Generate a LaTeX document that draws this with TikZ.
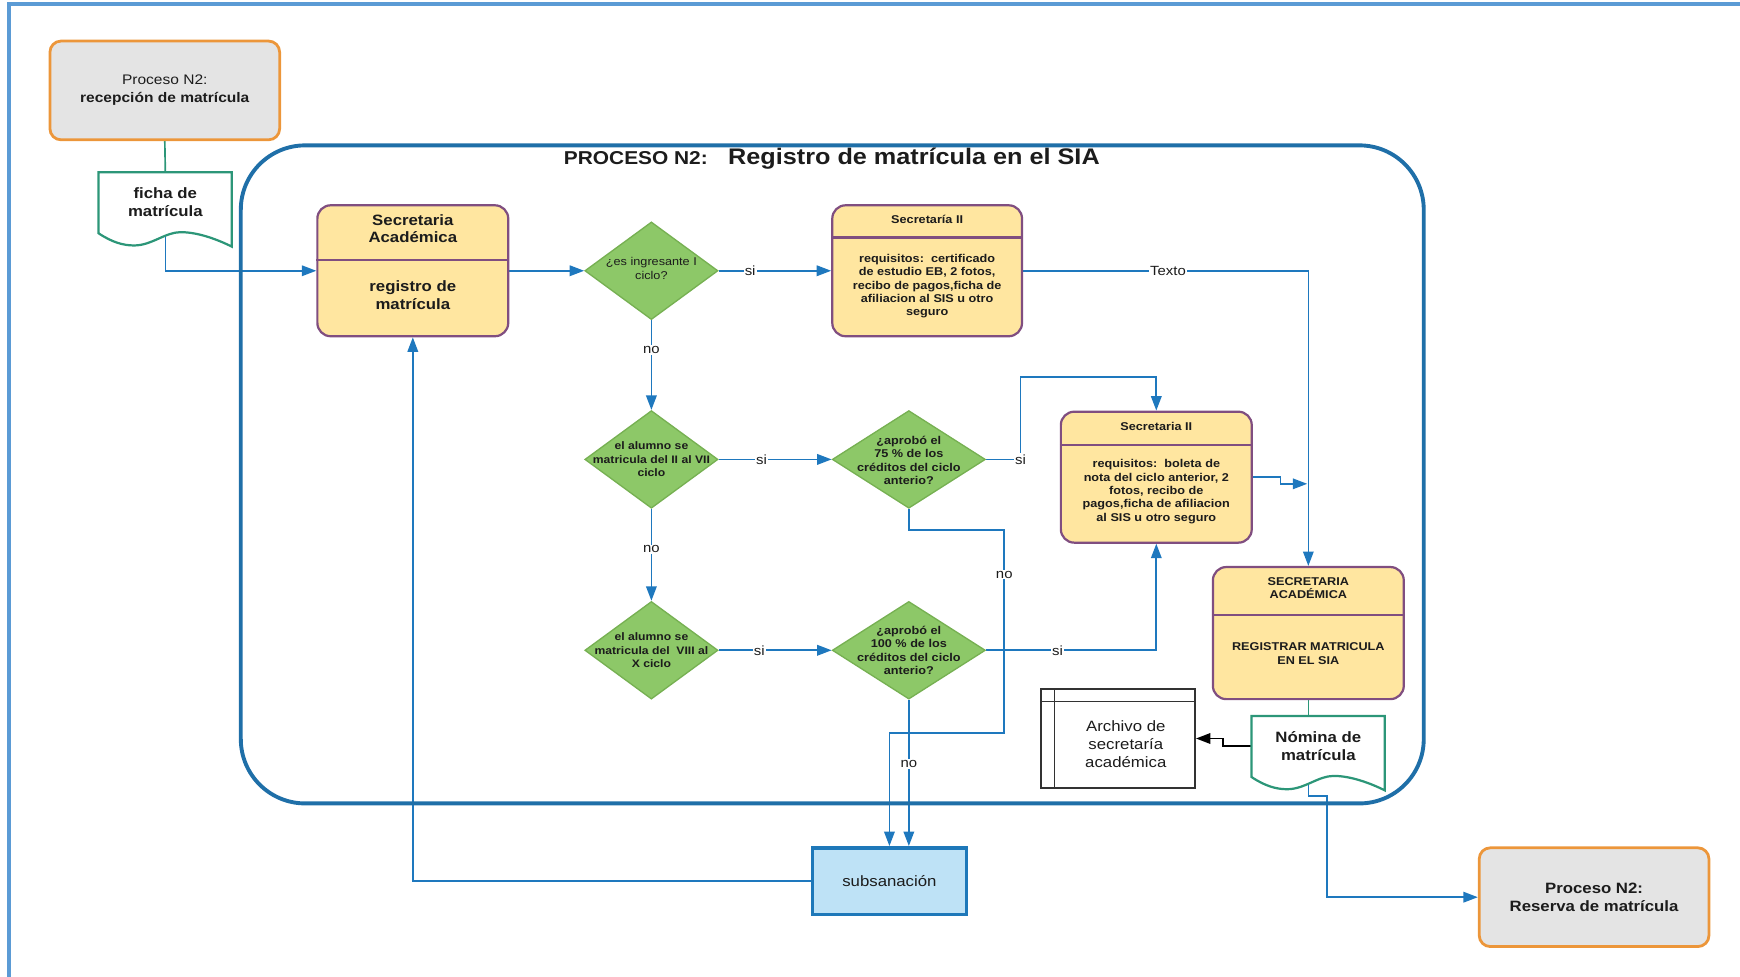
\documentclass[tikz,border=0pt]{standalone}
\usepackage{fontspec}
\setmainfont{Liberation Sans}[FakeStretch=1.12]
\usetikzlibrary{arrows.meta,shapes.geometric,calc}

\pgfdeclarelayer{back}
\pgfdeclarelayer{mid}
\pgfsetlayers{back,mid,main}

\definecolor{framec}{RGB}{91,155,213}
\definecolor{poolc}{RGB}{31,111,168}
\definecolor{linkc}{RGB}{30,120,190}
\definecolor{yfill}{RGB}{255,230,160}
\definecolor{pborder}{RGB}{128,78,128}
\definecolor{gfill}{RGB}{141,200,104}
\definecolor{gborder}{RGB}{118,176,82}
\definecolor{ofill}{RGB}{228,228,228}
\definecolor{oborder}{RGB}{236,150,58}
\definecolor{tealc}{RGB}{44,150,120}
\definecolor{subfill}{RGB}{190,226,246}
\definecolor{subborder}{RGB}{30,120,185}
\definecolor{txtc}{RGB}{28,28,28}
\definecolor{archc}{RGB}{50,50,50}

\newcommand{\fntS}{\fontsize{10.2}{12}\selectfont}
\newcommand{\fntD}{\fontsize{9.8}{12}\selectfont}
\newcommand{\fntM}{\fontsize{12.5}{16}\selectfont}
\newcommand{\fntL}{\fontsize{13.5}{16}\selectfont}

\tikzset{
  procbox/.style={draw=oborder, fill=ofill, line width=2.5pt, rounded corners=10pt,
    minimum width=207pt, minimum height=89pt, align=center, text=txtc},
  lanebox/.style={draw=pborder, fill=yfill, line width=2pt, rounded corners=12pt,
    minimum width=172pt, minimum height=118pt, inner sep=0pt},
  lanediv/.style={draw=pborder, line width=2pt},
  lanetext/.style={align=center, text=txtc, font=\fntS\bfseries, inner sep=0pt},
  decision/.style={diamond, draw=gborder, fill=gfill, line width=1.2pt,
    minimum width=120pt, minimum height=88pt, inner sep=0pt},
  widedecision/.style={decision, minimum width=138pt},
  dtext/.style={align=center, text=txtc, font=\fntD\bfseries, inner sep=0pt},
  docnode/.style={minimum width=120pt, minimum height=55pt, inner sep=0pt,
    align=center, text=txtc, font=\fntL\bfseries},
  docline/.style={draw=tealc, line width=2pt, fill=white, line join=miter},
  tip/.style={-{Triangle[length=13pt,width=9.5pt]}},
  link/.style={draw=linkc, line width=1.5pt, tip},
  lbl/.style={fill=white, inner sep=1pt, text=txtc, font=\fontsize{12}{14}\selectfont},
}

% outline of a document symbol hanging below a docnode
\newcommand{\docoutline}[1]{%
  \begin{scope}[shift={(#1.south west)}]
    \draw[docline] (0,0) -- (0,-55) -- (120,-55) -- (120,12)
      .. controls (108,6) and (90,-1) .. (74,-1)
      .. controls (60,-1) and (48,11) .. (32,11)
      .. controls (22,11) and (12,8) .. (0,0) -- cycle;
  \end{scope}}

\begin{document}
\begin{tikzpicture}[x=1pt,y=-1pt]
\useasboundingbox (0,0) rectangle (1568,880);

% page frame (open to the right and bottom)
\draw[framec, line width=3.5pt] (8,900) -- (8,4) -- (1600,4);

% process pool
\draw[poolc, line width=3.5pt, rounded corners=58pt] (217,131) rectangle (1283,724);
\node[anchor=base west, inner sep=0pt, text=txtc, font=\fontsize{16.8}{20}\selectfont\bfseries]
  (ttlA) at (508,148) {PROCESO N2:};
\node[anchor=base west, inner sep=0pt, text=txtc, font=\fontsize{20.3}{24}\selectfont\bfseries]
  (ttlB) at (656,148) {Registro de matrícula en el SIA};

% start and end processes
\node[procbox, font=\fntM] (p1) at (148.5,81.5) {Proceso N2:\\\textbf{recepción de matrícula}};
\node[procbox, font=\fntL\bfseries] (res) at (1436.5,808.5) {Proceso N2:\\Reserva de matrícula};

% documents
\node[docnode] (ficha) at (149,182.5) {ficha de\\matrícula};
\node[docnode] (nom) at (1188,672.5) {Nómina de\\matrícula};
\begin{pgfonlayer}{mid}
  \docoutline{ficha}
  \docoutline{nom}
\end{pgfonlayer}

% Secretaria Academica
\node[lanebox] (sa) at (372,244) {};
\draw[lanediv] ($(sa.north west)+(0,50)$) -- ($(sa.north east)+(0,50)$);
\node[lanetext, font=\fntL\bfseries] (saH) at ($(sa.north)+(0,22)$) {Secretaria\\Académica};
\node[lanetext, font=\fntL\bfseries] (saB) at ($(sa.north)+(0,82)$) {registro de\\matrícula};

% Secretaria II (first cycle)
\node[lanebox, minimum width=171pt] (s2a) at (835.5,244) {};
\draw[lanediv] ($(s2a.north west)+(0,30)$) -- ($(s2a.north east)+(0,30)$);
\node[lanetext] (s2aH) at ($(s2a.north)+(0,14)$) {Secretaría II};
\node[lanetext] (s2aB) at ($(s2a.north)+(0,74)$)
  {requisitos:\ \ certificado\\de estudio EB, 2 fotos,\\recibo de pagos,ficha de\\afiliacion al SIS u otro\\seguro};

% Secretaria II (other cycles)
\node[lanebox] (s2b) at (1042,430) {};
\draw[lanediv] ($(s2b.north west)+(0,31)$) -- ($(s2b.north east)+(0,31)$);
\node[lanetext] (s2bH) at ($(s2b.north)+(0,14)$) {Secretaria II};
\node[lanetext] (s2bB) at ($(s2b.north)+(0,73)$)
  {requisitos:\ \ boleta de\\nota del ciclo anterior, 2\\fotos, recibo de\\pagos,ficha de afiliacion\\al SIS u otro seguro};

% registration in SIA
\node[lanebox, minimum height=119pt] (reg) at (1179,570.5) {};
\draw[lanediv] ($(reg.north west)+(0,44)$) -- ($(reg.north east)+(0,44)$);
\node[lanetext] (regH) at ($(reg.north)+(0,20)$) {SECRETARIA\\ACADÉMICA};
\node[lanetext] (regB) at ($(reg.north)+(0,79)$) {REGISTRAR MATRICULA\\EN EL SIA};

% decisions
\node[decision] (d1) at (587,244) {};
\node[dtext, font=\fntS] (d1t) at ($(d1)+(0,-2)$) {¿es ingresante I\\ciclo?};
\node[decision] (d2) at (587,414) {};
\node[dtext] (d2t) at (d2) {el alumno se\\matricula del II al VII\\ciclo};
\node[widedecision] (d3) at (819,414) {};
\node[dtext, font=\fntS\bfseries] (d3t) at ($(d3)+(0,1)$) {¿aprobó el\\75 \% de los\\créditos del ciclo\\anterio?};
\node[decision] (d4) at (587,586) {};
\node[dtext] (d4t) at (d4) {el alumno se\\matricula del\ \ VIII al\\X ciclo};
\node[widedecision] (d5) at (819,586) {};
\node[dtext, font=\fntS\bfseries] (d5t) at (d5) {¿aprobó el\\100 \% de los\\créditos del ciclo\\anterio?};

% correction step
\node[draw=subborder, fill=subfill, line width=3.2pt, minimum width=139pt, minimum height=60pt,
  text=txtc, font=\fntL] (sub) at (801.5,794) {subsanación};

% archive (internal storage)
\node[draw=archc, line width=1.5pt, minimum width=139pt, minimum height=89pt] (arch) at (1007.5,665.5) {};
\draw[archc, line width=1.5pt] ($(arch.north west)+(13,0)$) -- ($(arch.south west)+(13,0)$);
\draw[archc, line width=1.5pt] ($(arch.north west)+(0,12)$) -- ($(arch.north east)+(0,12)$);
\node[align=center, text=txtc, font=\fntL, inner sep=0pt] (archT) at ($(arch.center)+(7,5)$)
  {Archivo de\\secretaría\\académica};

\coordinate (join1) at (1178,436);

% connectors
\begin{pgfonlayer}{back}
  \draw[draw=tealc, line width=1.5pt] (p1.south) -- (ficha.north);
  \draw[link] (ficha.center) |- (sa.west);
  \draw[link] (sa.east) -- (d1.west);
  \draw[link] (d1.east) -- node[lbl, pos=0.28] {si} (s2a.west);
  \draw[link] (s2a.east) -| node[lbl, pos=0.254] {Texto} (reg.north);
  \draw[link] (d1.south) -- node[lbl, pos=0.33] {no} (d2.north);
  \draw[link] (d2.east) -- node[lbl, pos=0.38] {si} (d3.west);
  \draw[link] (d3.east) -- ++(31,0) node[lbl, pos=1] {si} -- ++(0,-74) -| (s2b.north);
  \draw[link] (s2b.east) -- ++(25,0) -- ++(0,6) -- (join1);
  \draw[link] (d2.south) -- node[lbl, pos=0.44] {no} (d4.north);
  \draw[link] (d4.east) -- node[lbl, pos=0.36] {si} (d5.west);
  \draw[link] (d5.east) -| node[lbl, pos=0.21] {si} (s2b.south);
  \draw[link] (d5.south) -- node[lbl, pos=0.44] {no} (d5.south |- sub.north);
  \draw[link] (d3.south) -- ++(0,19) -- ++(86,0) -- node[lbl, pos=0.22] {no} ++(0,183) -| (sub.north);
  \draw[link] (sub.west) -| (sa.south);
  \draw[draw=tealc, line width=1.5pt] (reg.south) -- (reg.south |- nom.north);
  \draw[draw=black, line width=1.6pt, tip] (nom.west) -- ++(-26,0) |- (arch.east);
  \draw[link] ($(nom.south)+(-9,0)$) -- ++(0,17) -- ++(17,0) |- (res.west);
\end{pgfonlayer}
\end{tikzpicture}
\end{document}
